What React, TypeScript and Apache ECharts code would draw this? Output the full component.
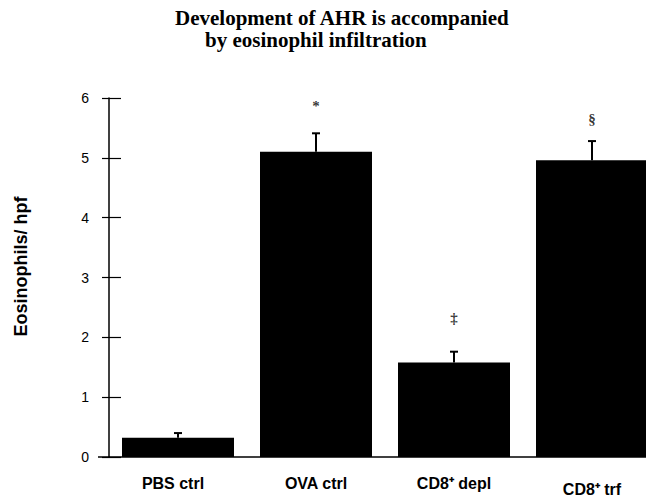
import React, { useEffect, useRef } from "react";
import * as echarts from "echarts";

const categories = ["PBS ctrl", "OVA ctrl", "CD8⁺ depl", "CD8⁺ trf"];
const means = [0.32, 5.1, 1.58, 4.96];
const errorTops = [0.4, 5.41, 1.76, 5.28];
const markers = ["", "*", "‡", "§"];
const markerY = [0, 5.87, 2.33, 5.65];
const yTicks = [0, 1, 2, 3, 4, 5, 6];
const titleLines = ["Development of AHR is accompanied", "by eosinophil infiltration"];

export default function App() {
  const ref = useRef<HTMLDivElement>(null);
  useEffect(() => {
    if (!ref.current) return;
    const chart = echarts.init(ref.current, null, { renderer: "svg" });
    const labelFont = "'Liberation Sans', Arial, sans-serif";
    const serif = "'Liberation Serif', 'Times New Roman', serif";
    const catData = categories.map((c, i) => {
      if (i === 0) return { value: c, textStyle: { padding: [0, 10, 0, 0] } };
      if (i === 3) return { value: c, textStyle: { padding: [6, 0, 0, 0] } };
      return c;
    });
    const option: any = {
      animation: false,
      backgroundColor: "#fff",
      grid: {
        left: 109,
        right: -15,
        top: 98,
        bottom: 45,
        containLabel: false,
        outerBoundsMode: "none",
      },
      graphic: [
        {
          type: "text",
          left: 175,
          top: 7,
          style: {
            text: `{a|${titleLines[0]}}\n{b|${titleLines[1]}}`,
            rich: {
              a: {
                fontFamily: serif,
                fontWeight: "bold",
                fontSize: 21,
                lineHeight: 22,
                fill: "#000",
                color: "#000",
              },
              b: {
                fontFamily: serif,
                fontWeight: "bold",
                fontSize: 21,
                lineHeight: 22,
                padding: [0, 0, 0, 30],
                fill: "#000",
                color: "#000",
              },
            },
            fill: "#000",
          },
        },
        {
          type: "line",
          shape: { x1: 98, y1: 457, x2: 110, y2: 457 },
          style: { stroke: "#000", lineWidth: 1.5 },
        },
      ],
      xAxis: {
        type: "category",
        data: catData,
        axisLine: { show: true, lineStyle: { color: "#000", width: 1.5 } },
        axisTick: { show: false },
        axisLabel: {
          margin: 18,
          color: "#000",
          fontFamily: labelFont,
          fontWeight: "bold",
          fontSize: 16,
        },
      },
      yAxis: [
        {
          type: "value",
          min: 0,
          max: 6,
          interval: 1,
          name: "Eosinophils/ hpf",
          nameLocation: "middle",
          nameRotate: 90,
          nameGap: 79,
          nameTextStyle: {
            color: "#000",
            fontFamily: labelFont,
            fontWeight: "bold",
            fontSize: 18,
            padding: [0, 0, 0, 22],
          },
          axisLine: { show: true, lineStyle: { color: "#000", width: 1.5 } },
          axisTick: { show: true, length: 7, inside: false, lineStyle: { color: "#000", width: 1.2 } },
          axisLabel: {
            margin: 20,
            color: "#000",
            fontFamily: labelFont,
            fontSize: 14,
            formatter: (v: number) => (yTicks.includes(v) ? String(v) : ""),
          },
          splitLine: { show: false },
        },
        {
          type: "value",
          min: 0,
          max: 6,
          interval: 1,
          position: "left",
          axisLine: { show: false },
          axisTick: { show: true, length: 12, inside: true, lineStyle: { color: "#000", width: 1.2 } },
          axisLabel: { show: false },
          splitLine: { show: false },
        },
      ],
      series: [
        {
          type: "bar",
          data: means,
          barWidth: 112,
          itemStyle: { color: "#000" },
          z: 2,
        },
        {
          type: "custom",
          data: means.map((m, i) => [i, m, errorTops[i]]),
          renderItem: (params: any, api: any) => {
            const x = api.value(0);
            const base = api.coord([x, api.value(1)]);
            const top = api.coord([x, api.value(2)]);
            const cap = 4;
            return {
              type: "group",
              children: [
                {
                  type: "line",
                  shape: { x1: base[0], y1: base[1], x2: top[0], y2: top[1] },
                  style: { stroke: "#000", lineWidth: 2 },
                },
                {
                  type: "line",
                  shape: { x1: top[0] - cap, y1: top[1], x2: top[0] + cap, y2: top[1] },
                  style: { stroke: "#000", lineWidth: 2 },
                },
              ],
            };
          },
          z: 3,
        },
        {
          type: "scatter",
          symbolSize: 0,
          itemStyle: { color: "#000" },
          data: markers
            .map((m, i) => ({ value: [i, markerY[i]], name: m }))
            .filter((d) => d.name !== ""),
          label: {
            show: true,
            position: "inside",
            formatter: (p: any) => p.name,
            color: "#000",
            textBorderWidth: 0,
            fontFamily: serif,
            fontWeight: "bold",
            fontSize: 15,
          },
          z: 4,
        },
      ],
    };
    chart.setOption(option);
    return () => chart.dispose();
  }, []);
  return (
    <div
      ref={ref}
      style={{ position: "fixed", left: 0, top: 0, width: 646, height: 502, overflow: "hidden" }}
    />
  );
}
